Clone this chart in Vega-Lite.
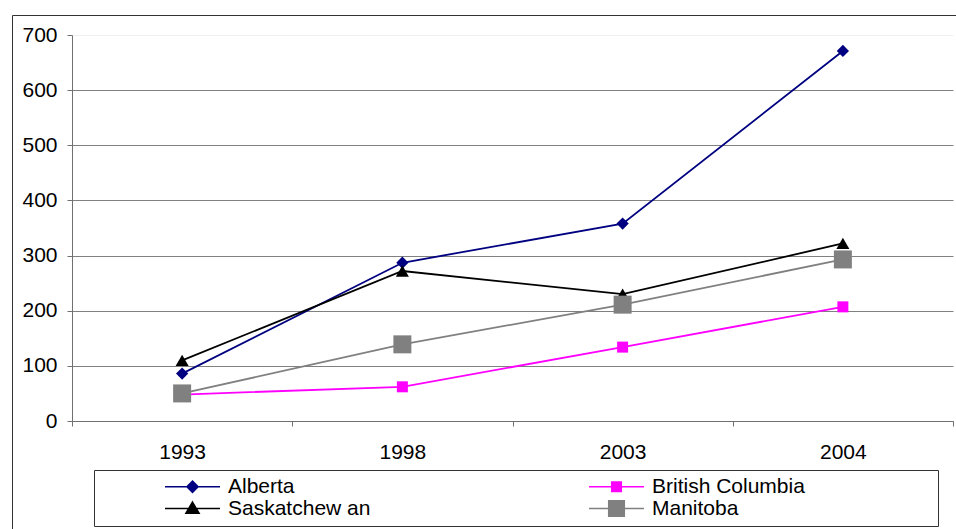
{
  "$schema": "https://vega.github.io/schema/vega-lite/v6.json",
  "description": "Four provinces, values by year (1993-2004).",
  "autosize": {"type": "none"},
  "padding": {"left": 12, "top": 15, "right": 0, "bottom": 0},
  "width": 945,
  "height": 520,
  "background": "white",
  "config": {
    "view": {"stroke": "#333333", "strokeWidth": 1},
    "font": "Liberation Sans",
    "axis": {
      "labelFont": "Liberation Sans",
      "labelFontSize": 21,
      "labelColor": "black",
      "domainColor": "#707070",
      "tickColor": "#707070",
      "tickSize": 5,
      "title": null
    }
  },
  "data": {
    "values": [
      {"Year": "1993", "Province": "Alberta", "Value": 86},
      {"Year": "1998", "Province": "Alberta", "Value": 287},
      {"Year": "2003", "Province": "Alberta", "Value": 358},
      {"Year": "2004", "Province": "Alberta", "Value": 671},
      {"Year": "1993", "Province": "British Columbia", "Value": 48},
      {"Year": "1998", "Province": "British Columbia", "Value": 62},
      {"Year": "2003", "Province": "British Columbia", "Value": 134},
      {"Year": "2004", "Province": "British Columbia", "Value": 207},
      {"Year": "1993", "Province": "Saskatchew an", "Value": 110},
      {"Year": "1998", "Province": "Saskatchew an", "Value": 272},
      {"Year": "2003", "Province": "Saskatchew an", "Value": 230},
      {"Year": "2004", "Province": "Saskatchew an", "Value": 322},
      {"Year": "1993", "Province": "Manitoba", "Value": 50},
      {"Year": "1998", "Province": "Manitoba", "Value": 139},
      {"Year": "2003", "Province": "Manitoba", "Value": 211},
      {"Year": "2004", "Province": "Manitoba", "Value": 293}
    ]
  },
  "encoding": {
    "x": {
      "field": "Year",
      "type": "ordinal",
      "sort": null,
      "scale": {"type": "band", "range": [60, 941], "paddingInner": 0, "paddingOuter": 0},
      "axis": {"orient": "bottom", "offset": -114, "labelAngle": 0, "tickBand": "extent", "labelPadding": 15, "grid": false}
    },
    "y": {
      "field": "Value",
      "type": "quantitative",
      "scale": {"domain": [0, 700], "range": [406, 20], "nice": false},
      "axis": {
        "orient": "left",
        "offset": -60,
        "values": [0, 100, 200, 300, 400, 500, 600, 700],
        "labelPadding": 10,
        "grid": true,
        "gridColor": {"condition": {"test": "datum.value === 700", "value": "#f0f0f0"}, "value": "#808080"}
      }
    }
  },
  "layer": [
    {
      "mark": {"type": "line", "strokeWidth": 1.8},
      "encoding": {
        "color": {
          "field": "Province",
          "type": "nominal",
          "scale": {
            "domain": ["Alberta", "British Columbia", "Saskatchew an", "Manitoba"],
            "range": ["#000080", "#FF00FF", "#000000", "#808080"]
          },
          "legend": null
        }
      }
    },
    {
      "mark": {"type": "point", "filled": true, "opacity": 1},
      "encoding": {
        "color": {"field": "Province", "type": "nominal", "legend": null},
        "shape": {
          "field": "Province",
          "type": "nominal",
          "scale": {
            "domain": ["Alberta", "British Columbia", "Saskatchew an", "Manitoba"],
            "range": ["diamond", "square", "triangle-up", "square"]
          },
          "legend": null
        },
        "size": {
          "field": "Province",
          "type": "nominal",
          "scale": {
            "type": "ordinal",
            "domain": ["Alberta", "British Columbia", "Saskatchew an", "Manitoba"],
            "range": [150, 121, 170, 324]
          },
          "legend": null
        }
      }
    },
    {
      "mark": {"type": "point", "filled": true, "opacity": 0},
      "encoding": {
        "fill": {
          "field": "Province",
          "type": "nominal",
          "scale": {
            "domain": ["Alberta", "British Columbia", "Saskatchew an", "Manitoba"],
            "range": ["#000080", "#FF00FF", "#000000", "#808080"]
          },
          "legend": {
            "title": null, "orient": "none", "legendX": 82, "legendY": 455, "columns": 2, "direction": "horizontal",
            "labelFont": "Liberation Sans", "labelFontSize": 21, "labelColor": "black", "labelLimit": 300,
            "symbolSize": 64, "symbolStrokeWidth": 1.5, "symbolOpacity": 1,
            "strokeColor": "#333333", "fillColor": "white", "padding": 6, "rowPadding": 0, "columnPadding": 13, "labelOffset": 107
          }
        },
        "stroke": {
          "field": "Province",
          "type": "nominal",
          "scale": {
            "domain": ["Alberta", "British Columbia", "Saskatchew an", "Manitoba"],
            "range": ["#000080", "#FF00FF", "#000000", "#808080"]
          },
          "legend": {
            "title": null, "orient": "none", "legendX": 82, "legendY": 455, "columns": 2, "direction": "horizontal",
            "labelFont": "Liberation Sans", "labelFontSize": 21, "labelColor": "black", "labelLimit": 300,
            "symbolSize": 64, "symbolStrokeWidth": 1.5, "symbolOpacity": 1,
            "strokeColor": "#333333", "fillColor": "white", "padding": 6, "rowPadding": 0, "columnPadding": 13, "labelOffset": 107
          }
        },
        "shape": {
          "field": "Province",
          "type": "nominal",
          "scale": {
            "domain": ["Alberta", "British Columbia", "Saskatchew an", "Manitoba"],
            "range": [
              "M-2.5,0M98.5,0M13.625,0L27.375,0M20.5,-1.4L21.9,0L20.5,1.4L19.1,0Z",
              "M-2.5,0M98.5,0M13.625,0L27.375,0M19.3,-1.2L21.7,-1.2L21.7,1.2L19.3,1.2Z",
              "M-2.5,0M98.5,0M13.625,0L27.375,0M20.5,-1.6L22.15,1.2L18.85,1.2Z",
              "M-2.5,0M98.5,0M13.625,0L27.375,0M18.55,-1.95L22.45,-1.95L22.45,1.95L18.55,1.95Z"
            ]
          },
          "legend": {
            "title": null, "orient": "none", "legendX": 82, "legendY": 455, "columns": 2, "direction": "horizontal",
            "labelFont": "Liberation Sans", "labelFontSize": 21, "labelColor": "black", "labelLimit": 300,
            "symbolSize": 64, "symbolStrokeWidth": 1.5, "symbolOpacity": 1,
            "strokeColor": "#333333", "fillColor": "white", "padding": 6, "rowPadding": 0, "columnPadding": 13, "labelOffset": 107
          }
        }
      }
    }
  ],
  "resolve": {"scale": {"shape": "independent", "fill": "independent", "stroke": "independent", "size": "independent"}}
}
